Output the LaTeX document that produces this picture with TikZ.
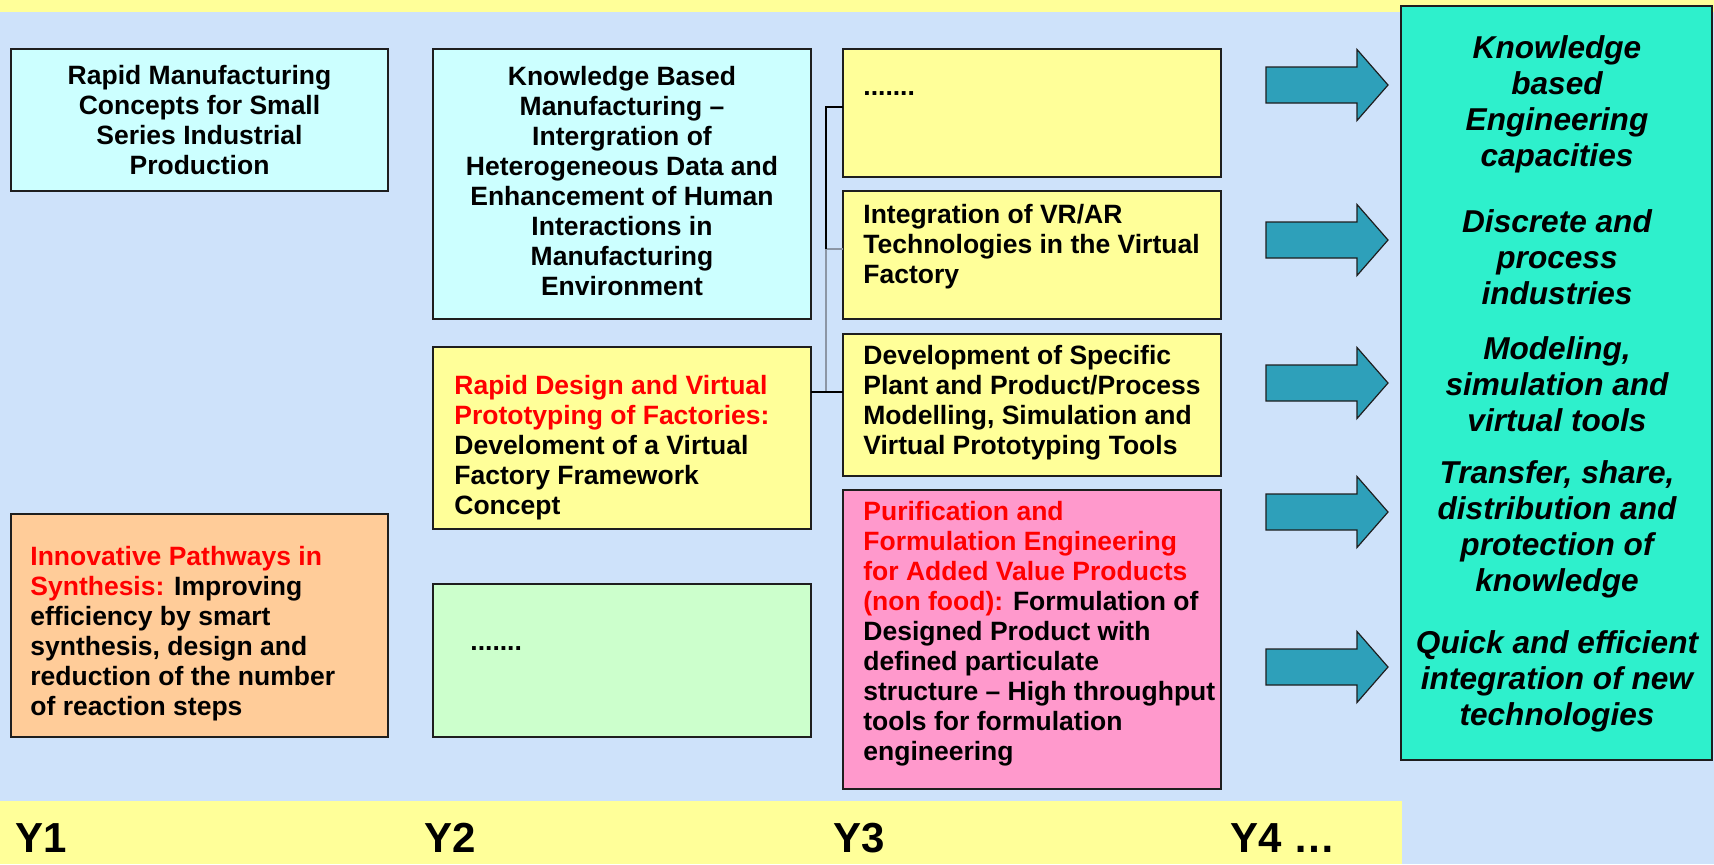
\documentclass[tikz,border=0pt]{standalone}
\usepackage{fontspec}
\setmainfont{Liberation Sans}
\definecolor{bgblue}{RGB}{206,226,250}
\definecolor{band}{RGB}{255,255,153}
\definecolor{cyanbox}{RGB}{204,255,255}
\definecolor{yelbox}{RGB}{255,255,153}
\definecolor{greenbox}{RGB}{204,255,204}
\definecolor{orangebox}{RGB}{255,204,153}
\definecolor{pinkbox}{RGB}{255,153,204}
\definecolor{tealbox}{RGB}{46,240,204}
\definecolor{arrowfill}{RGB}{46,160,186}
\definecolor{edge}{RGB}{30,30,30}
\definecolor{greyline}{RGB}{140,150,165}
\begin{document}
\begin{tikzpicture}[x=0.5pt,y=-0.5pt,
  box/.style={draw=edge, line width=0.75pt, anchor=north west, inner sep=0pt, outer sep=0pt},
  txt/.style={inner sep=0pt, font=\fontsize{13.25}{15}\selectfont\bfseries},
  goal/.style={inner sep=0pt, align=center, font=\fontsize{15.8}{18}\selectfont\bfseries\itshape},
  year/.style={inner sep=0pt, anchor=base west, font=\fontsize{21}{24}\selectfont\bfseries},
  bigarrow/.style={fill=arrowfill, draw=edge, line width=0.6pt, line join=miter},
  link/.style={draw=black, line width=0.8pt},
  greylink/.style={draw=greyline, line width=1.1pt}]

\useasboundingbox (0,0) rectangle (1714,864);
\fill[bgblue] (0,0) rectangle (1714,864);
\fill[band] (0,0) rectangle (1714,12);
\fill[band] (0,801) rectangle (1402,864);

% boxes
\node[box, fill=cyanbox, minimum width=188.5pt, minimum height=71pt] (A) at (11,49) {};
\node[box, fill=cyanbox, minimum width=189pt, minimum height=135pt] (B) at (433,49) {};
\node[box, fill=yelbox, minimum width=189pt, minimum height=64pt] (C) at (843,49) {};
\node[box, fill=yelbox, minimum width=189pt, minimum height=64pt] (D) at (843,191) {};
\node[box, fill=yelbox, minimum width=189pt, minimum height=71pt] (E) at (843,334) {};
\node[box, fill=pinkbox, minimum width=189pt, minimum height=149.5pt] (F) at (843,490) {};
\node[box, fill=yelbox, minimum width=189pt, minimum height=91pt] (G) at (433,347) {};
\node[box, fill=greenbox, minimum width=189pt, minimum height=76.5pt] (H) at (433,584) {};
\node[box, fill=orangebox, minimum width=188.5pt, minimum height=111.5pt] (I) at (11,514) {};
\node[box, fill=tealbox, minimum width=155.5pt, minimum height=377pt] (goals) at (1401,6) {};

% box texts
\node[txt, align=center] (tA) at (A.center) {Rapid Manufacturing\\Concepts for Small\\Series Industrial\\Production};
\node[txt, align=center] (tB) at ([yshift=1.5pt]B.center) {Knowledge Based\\Manufacturing \textendash\\Intergration of\\Heterogeneous Data and\\Enhancement of Human\\Interactions in\\Manufacturing\\Environment};
\node[txt, anchor=base west] (tC) at ([xshift=10pt,yshift=-23pt]C.north west) {.......};
\node[txt, align=left, anchor=west] (tD) at ([xshift=10pt,yshift=4pt]D.west) {Integration of VR/AR\\Technologies in the Virtual\\Factory};
\node[txt, align=left, anchor=west] (tE) at ([xshift=10pt,yshift=1pt]E.west) {Development of Specific\\Plant and Product/Process\\Modelling, Simulation and\\Virtual Prototyping Tools};
\node[txt, align=left, anchor=west] (tF) at ([xshift=10pt,yshift=3pt]F.west) {\textcolor{red}{Purification and}\\\textcolor{red}{Formulation Engineering}\\\textcolor{red}{for Added Value Products}\\\textcolor{red}{(non food):} Formulation of\\Designed Product with\\defined particulate\\structure \textendash{} High throughput\\tools for formulation\\engineering};
\node[txt, align=left, anchor=west] (tG) at ([xshift=10.5pt,yshift=-5pt]G.west) {\textcolor{red}{Rapid Design and Virtual}\\\textcolor{red}{Prototyping of Factories:}\\Develoment of a Virtual\\Factory Framework\\Concept};
\node[txt, anchor=base west] (tH) at ([xshift=18.5pt,yshift=-33pt]H.north west) {.......};
\node[txt, align=left, anchor=west] (tI) at ([xshift=9.5pt,yshift=-4pt]I.west) {\textcolor{red}{Innovative Pathways in}\\\textcolor{red}{Synthesis:} Improving\\efficiency by smart\\synthesis, design and\\reduction of the number\\of reaction steps};

% connectors
\coordinate (j1) at (826,107);
\coordinate (j2) at (826,249);
\coordinate (j3) at (826,392);
\draw[greylink] (j2) -- (D.west |- j2);
\draw[greylink] (j2) -- (j3);
\draw[link] (C.west |- j1) -- (j1) -- (j2);
\draw[link] (G.east |- j3) -- (E.west |- j3);

% block arrows
\foreach \yy in {85,240,383,512,667}
  \draw[bigarrow] (1266,\yy-18) -- (1357,\yy-18) -- (1357,\yy-35.5) -- (1388,\yy)
     -- (1357,\yy+35.5) -- (1357,\yy+18) -- (1266,\yy+18) -- cycle;

% goal texts
\node[goal] (g1) at (1557,104) {Knowledge\\based\\Engineering\\capacities};
\node[goal] (g2) at (1557,257) {Discrete and\\process\\industries};
\node[goal] (g3) at (1557,384) {Modeling,\\simulation and\\virtual tools};
\node[goal] (g4) at (1557,529) {Transfer, share,\\distribution and\\protection of\\knowledge};
\node[goal] (g5) at (1557,681) {Quick and efficient\\integration of new\\technologies};

% years
\node[year] (y1) at (15,852) {Y1};
\node[year] (y2) at (424,852) {Y2};
\node[year] (y3) at (833,852) {Y3};
\node[year] (y4) at (1230,852) {Y4 \ldots};
\end{tikzpicture}
\end{document}
